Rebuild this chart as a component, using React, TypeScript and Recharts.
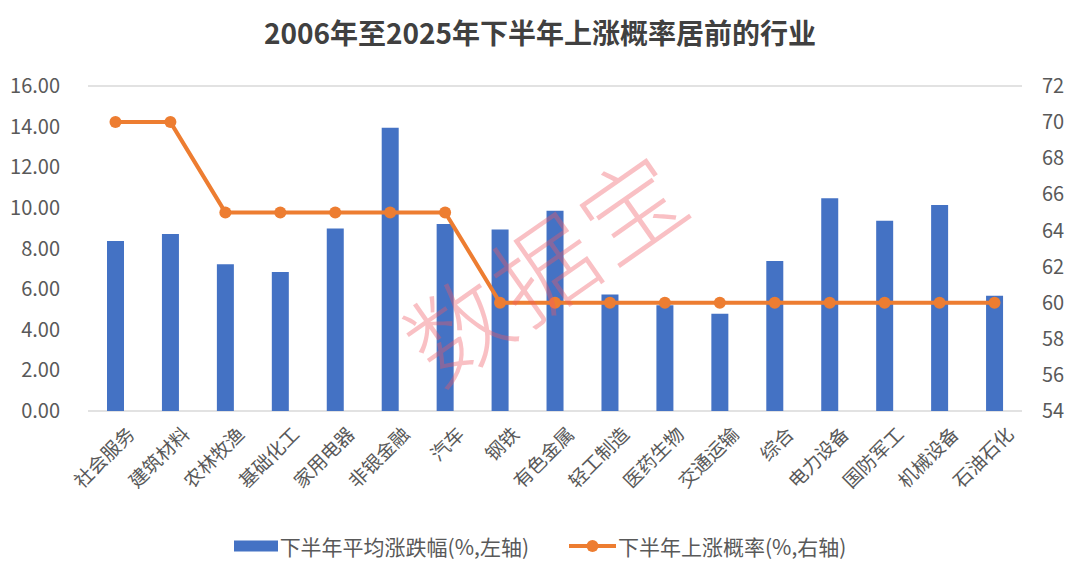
import React from 'react';
import {
  ComposedChart,
  Bar,
  Line,
  XAxis,
  YAxis,
  CartesianGrid,
  Legend,
} from 'recharts';

const categories = [
  '社会服务', '建筑材料', '农林牧渔', '基础化工', '家用电器', '非银金融', '汽车', '钢铁', '有色金属',
  '轻工制造', '医药生物', '交通运输', '综合', '电力设备', '国防军工', '机械设备', '石油石化',
];
const avgChange = [8.37, 8.71, 7.22, 6.84, 8.98, 13.95, 9.21, 8.93, 9.86, 5.73, 5.21, 4.79, 7.38, 10.47, 9.37, 10.14, 5.68];
const upProb = [70, 70, 65, 65, 65, 65, 65, 60, 60, 60, 60, 60, 60, 60, 60, 60, 60];
const leftTicks = [0, 2, 4, 6, 8, 10, 12, 14, 16];
const rightTicks = [54, 56, 58, 60, 62, 64, 66, 68, 70, 72];

const FONT = '"Noto Sans CJK SC", "Noto Sans", sans-serif';
const BLUE = '#4472C4';
const ORANGE = '#ED7D31';
const GRAY = '#595959';

const data = categories.map((name, i) => ({
  name,
  avg: avgChange[i],
  prob: upProb[i],
}));

function AngledTick(props: any) {
  const { x, y, payload } = props;
  return (
    <g transform={`translate(${x + 8},${y + 4})`}>
      <text
        transform="rotate(-45)"
        textAnchor="end"
        dominantBaseline="hanging"
        fill={GRAY}
        fontSize={19}
        fontFamily={FONT}
      >
        {payload.value}
      </text>
    </g>
  );
}

function LegendContent() {
  return (
    <div
      style={{
        display: 'flex',
        justifyContent: 'center',
        alignItems: 'center',
        gap: 40,
        fontFamily: FONT,
        fontSize: 21,
        color: GRAY,
      }}
    >
      <div style={{ display: 'flex', alignItems: 'center' }}>
        <svg width={44} height={12} style={{ marginRight: 2 }}>
          <rect x={0} y={0.5} width={44} height={11} fill={BLUE} />
        </svg>
        <span>下半年平均涨跌幅(%,左轴)</span>
      </div>
      <div style={{ display: 'flex', alignItems: 'center' }}>
        <svg width={47} height={14} style={{ marginRight: 2 }}>
          <line x1={0} y1={7} x2={47} y2={7} stroke={ORANGE} strokeWidth={4} />
          <circle cx={23.5} cy={7} r={6} fill={ORANGE} />
        </svg>
        <span>下半年上涨概率(%,右轴)</span>
      </div>
    </div>
  );
}

export default function App() {
  return (
    <div style={{ position: 'relative', width: 1080, height: 573, background: '#fff', fontFamily: FONT }}>
      <style>{`body{margin:0}`}</style>
      <div
        style={{
          position: 'absolute',
          top: 12,
          left: 0,
          width: 1080,
          textAlign: 'center',
          fontSize: 28,
          fontWeight: 700,
          color: '#404040',
          fontFamily: FONT,
        }}
      >
        2006年至2025年下半年上涨概率居前的行业
      </div>
      <ComposedChart
        width={1080}
        height={573}
        data={data}
        margin={{ top: 86, right: 0, left: 0, bottom: 12 }}
      >
        <CartesianGrid vertical={false} stroke="#d9d9d9" strokeWidth={1.5} />
        <XAxis
          dataKey="name"
          interval={0}
          height={120}
          axisLine={false}
          tickLine={false}
          tick={<AngledTick />}
        />
        <YAxis
          yAxisId="left"
          domain={[0, 16]}
          ticks={leftTicks}
          width={88}
          axisLine={false}
          tickLine={false}
          tickFormatter={(v: number) => v.toFixed(2)}
          tick={{ fill: GRAY, fontSize: 20, fontFamily: FONT }}
          tickMargin={22}
        />
        <YAxis
          yAxisId="right"
          orientation="right"
          domain={[54, 72]}
          ticks={rightTicks}
          width={58}
          axisLine={false}
          tickLine={false}
          tick={{ fill: GRAY, fontSize: 20, fontFamily: FONT }}
          tickMargin={14}
        />
        <Legend verticalAlign="bottom" height={30} content={<LegendContent />} />
        <Bar yAxisId="left" dataKey="avg" fill={BLUE} barSize={17} isAnimationActive={false} />
        <Line
          yAxisId="right"
          dataKey="prob"
          stroke={ORANGE}
          strokeWidth={4}
          dot={{ r: 6, fill: ORANGE, stroke: ORANGE, strokeWidth: 0 }}
          activeDot={false}
          isAnimationActive={false}
        />
      </ComposedChart>
      <div
        style={{
          position: 'absolute',
          left: 385,
          top: 190,
          transform: 'rotate(-35deg)',
          transformOrigin: 'center',
          fontSize: 100,
          fontWeight: 300,
          color: 'rgba(240, 90, 100, 0.38)',
          fontFamily: FONT,
          letterSpacing: 6,
          pointerEvents: 'none',
          whiteSpace: 'nowrap',
        }}
      >
        数据宝
      </div>
    </div>
  );
}
